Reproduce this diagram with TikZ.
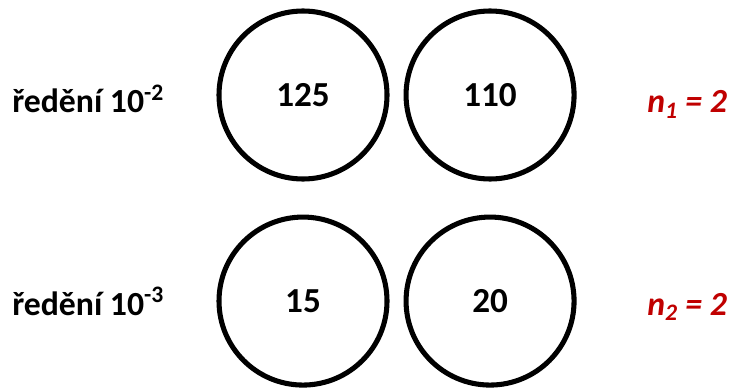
\documentclass[tikz,border=0pt]{standalone}
\usepackage{fontspec}
\setmainfont{Carlito}
\usetikzlibrary{positioning}
\definecolor{countred}{RGB}{192,0,0}

\begin{document}
\begin{tikzpicture}[
	plate/.style={
		circle, draw, line width=3.6pt,
		minimum size=4.2cm, inner sep=0pt,
		font=\fontsize{25}{30}\selectfont\bfseries
	},
	dilution/.style={
		anchor=base west, inner sep=0pt,
		font=\fontsize{24}{28}\selectfont\bfseries
	},
	count/.style={
		dilution, text=countred,
		font=\fontsize{24}{28}\selectfont\bfseries\itshape
	}
	]
	\useasboundingbox (0,0) rectangle (18.4,-9.675);
	
	% first dilution
	\node[plate] (plateA) at (7.575,-2.375) {125};
	\node[plate, right=0.35cm of plateA] (plateB) {110};
	
	% second dilution
	\node[plate, below=0.825cm of plateA] (plateC) {15};
	\node[plate, right=0.35cm of plateC] (plateD) {20};
	
	% dilution labels
	\node[dilution] (dilA) at (0.3,-2.825) {ředění 10\textsuperscript{-2}};
	\node[dilution] (dilB) at (0.3,-7.875) {ředění 10\textsuperscript{-3}};
	
	% number of plates
	\node[count] (countA) at (16.175,-2.825) {n\textsubscript{1} = 2};
	\node[count] (countB) at (16.175,-7.875) {n\textsubscript{2} = 2};
\end{tikzpicture}
\end{document}
